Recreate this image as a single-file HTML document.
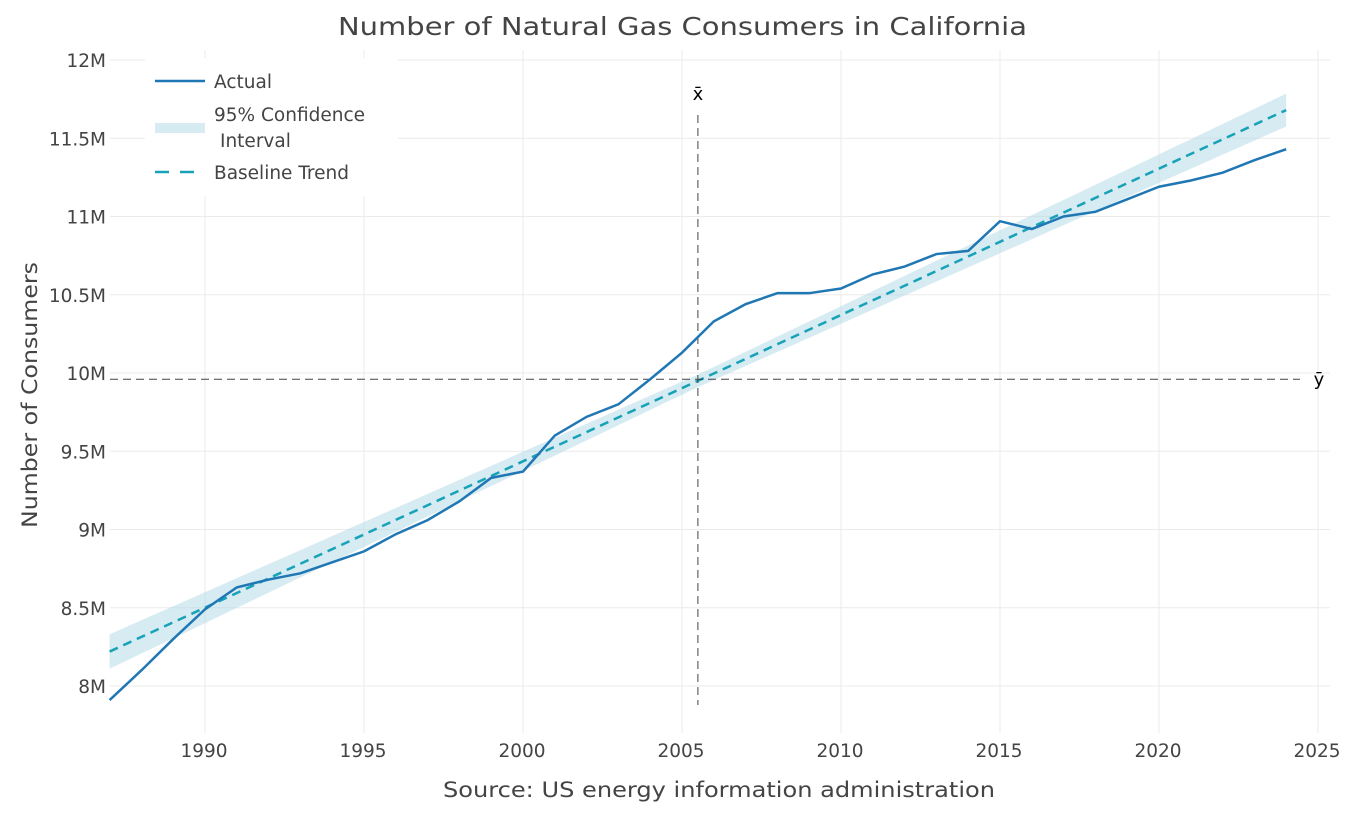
<!DOCTYPE html>
<html><head><meta charset="utf-8"><style>
body{margin:0;background:#fff;font-family:"DejaVu Sans",sans-serif}
</style></head><body>
<svg id="chart" width="1366" height="814" xmlns="http://www.w3.org/2000/svg" font-family="DejaVu Sans, sans-serif"></svg>
<script>
const years=[1987,1988,1989,1990,1991,1992,1993,1994,1995,1996,1997,1998,1999,2000,2001,2002,2003,2004,2005,2006,2007,2008,2009,2010,2011,2012,2013,2014,2015,2016,2017,2018,2019,2020,2021,2022,2023,2024];
const actual=[7.91,8.10,8.30,8.49,8.63,8.68,8.72,8.79,8.86,8.97,9.06,9.18,9.33,9.37,9.60,9.72,9.80,9.96,10.13,10.33,10.44,10.51,10.51,10.54,10.63,10.68,10.76,10.78,10.97,10.92,11.00,11.03,11.11,11.19,11.23,11.28,11.36,11.43];
const trendStart=[1987,8.22];
const trendEnd=[2024,11.68];
const ciHalfStart=0.11, ciHalfMid=0.04, ciHalfEnd=0.105, xMean=2005.5, yMean=9.96;
const xTicks=[1990,1995,2000,2005,2010,2015,2020,2025];
const yTicks=[8,8.5,9,9.5,10,10.5,11,11.5,12];
const yTickLabels=["8M","8.5M","9M","9.5M","10M","10.5M","11M","11.5M","12M"];
const svg=document.getElementById('chart');
const NS='http://www.w3.org/2000/svg';
const L=110,R=1330,T=50,B=733;
const X=v=>205+(v-1990)*31.8;
const Y=v=>686-(v-8)*156.5;
function el(tag,attrs,text){const e=document.createElementNS(NS,tag);for(const k in attrs)e.setAttribute(k,attrs[k]);if(text!==undefined)e.textContent=text;svg.appendChild(e);return e;}
xTicks.forEach((t,i)=>{const g=el('line',{x1:X(t),x2:X(t),y1:T,y2:B,stroke:'#ebebeb','stroke-width':1});

const tx=el('text',{x:X(t)-1,y:757,'text-anchor':'middle','font-size':18.5,fill:'#444'},t);
});
yTicks.forEach((t,i)=>{const g=el('line',{x1:L,x2:R,y1:Y(t),y2:Y(t),stroke:'#ebebeb','stroke-width':1});

const tx=el('text',{x:106,y:Y(t)+7,'text-anchor':'end','font-size':18.5,fill:'#444'},yTickLabels[i]);
});
const slope=(trendEnd[1]-trendStart[1])/(trendEnd[0]-trendStart[0]);
const tr=y=>trendStart[1]+slope*(y-trendStart[0]);
const mid=(trendStart[0]+trendEnd[0])/2;
const half=y=>y<mid?ciHalfStart+(ciHalfMid-ciHalfStart)*(y-trendStart[0])/(mid-trendStart[0]):ciHalfMid+(ciHalfEnd-ciHalfMid)*(y-mid)/(trendEnd[0]-mid);
let up=[],lo=[];
for(let y=trendStart[0];y<=trendEnd[0]+0.001;y+=0.5){up.push(X(y)+','+Y(tr(y)+half(y)));lo.unshift(X(y)+','+Y(tr(y)-half(y)));}
const ci=el('polygon',{points:up.concat(lo).join(' '),fill:'rgba(173,216,230,0.5)',stroke:'none'});

const tl=el('line',{x1:X(trendStart[0]),y1:Y(trendStart[1]),x2:X(trendEnd[0]),y2:Y(trendEnd[1]),stroke:'#17a2b8','stroke-width':2.5,'stroke-dasharray':'9,6'});

const vx=el('line',{x1:X(xMean),x2:X(xMean),y1:115,y2:B-28,stroke:'#444','stroke-width':1,'stroke-dasharray':'8,5'});

const hy=el('line',{x1:L,x2:1300,y1:Y(yMean),y2:Y(yMean),stroke:'#444','stroke-width':1,'stroke-dasharray':'8,5'});

const xl=el('text',{x:X(xMean),y:100,'text-anchor':'middle','font-size':18,fill:'#000'},'x̄');

const yl=el('text',{x:1319,y:Y(yMean)+6,'text-anchor':'middle','font-size':18,fill:'#000'},'ȳ');

const al=el('polyline',{points:years.map((y,i)=>X(y)+','+Y(actual[i])).join(' '),fill:'none',stroke:'#1f77b4','stroke-width':2.5});

const lb=el('rect',{x:145,y:58,width:253,height:138,fill:'#fff'});

const l1=el('line',{x1:155,x2:205,y1:81,y2:81,stroke:'#1f77b4','stroke-width':2.5});
const t1=el('text',{x:214,y:88,'font-size':18.5,fill:'#444'},'Actual');
const l2=el('rect',{x:155,y:123,width:50,height:10,fill:'rgba(173,216,230,0.5)'});
const t2=el('text',{x:214,y:121,'font-size':18.5,fill:'#444'},'95% Confidence');
const t2b=el('text',{x:220,y:147,'font-size':18.5,fill:'#444'},'Interval');
const l3=el('line',{x1:155,x2:195,y1:172,y2:172,stroke:'#17a2b8','stroke-width':2.5,'stroke-dasharray':'14,11'});
const t3=el('text',{x:214,y:179,'font-size':18.5,fill:'#444'},'Baseline Trend');
const tt=el('text',{x:338,y:35,'font-size':25,fill:'#444',textLength:689,lengthAdjust:'spacingAndGlyphs'},'Number of Natural Gas Consumers in California');
const xt=el('text',{x:443,y:797,'font-size':21,fill:'#444',textLength:552,lengthAdjust:'spacingAndGlyphs'},'Source: US energy information administration');
const yt=el('text',{x:0,y:0,'font-size':21,fill:'#444',textLength:266,lengthAdjust:'spacingAndGlyphs',transform:'translate(37,528) rotate(-90)'},'Number of Consumers');
</script>
</body></html>
